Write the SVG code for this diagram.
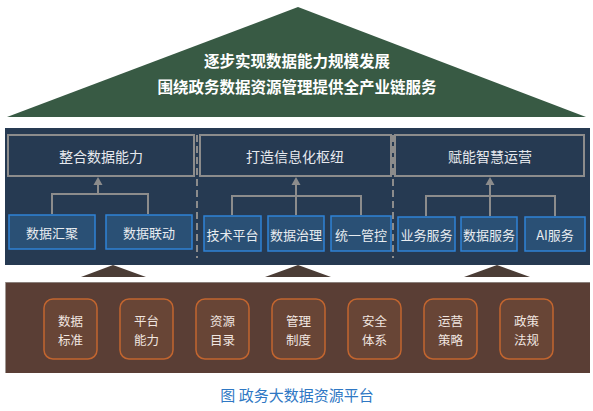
<svg xmlns="http://www.w3.org/2000/svg" width="593" height="411" viewBox="0 0 593 411">
<defs>
<style>
text{font-family:"Noto Sans CJK SC","Liberation Sans",sans-serif;text-anchor:middle;dominant-baseline:central}
.top{fill:#ffffff;font-size:15.5px;font-weight:bold}
.title{fill:#e6e9ee;font-size:14px}
.big{fill:none;stroke:#8c8c8c;stroke-width:2}
.sm{fill:#2a5075;stroke:#2f82d6;stroke-width:1.5}
.smt{fill:#e8ecf0;font-size:13px}
.base{fill:#684536;stroke:#c2652f;stroke-width:1.5}
.bt{fill:#f1e6e0;font-size:12.5px}
.con{fill:none;stroke:#8c8c8c;stroke-width:2}
.ah{fill:#8c8c8c}
.cap{fill:#2f78c4;font-size:15px}
</style>
</defs>
<rect width="593" height="411" fill="#ffffff"/>
<g id="roof">
<polygon points="298,7 7,117 586,117" fill="#385a44"/>
<text class="top" x="297" y="60">逐步实现数据能力规模发展</text>
<text class="top" x="297" y="86">围绕政务数据资源管理提供全产业链服务</text>
</g>
<g id="panel">
<rect x="5" y="128" width="585" height="137" fill="#263a52"/>
<line x1="197" y1="135" x2="197" y2="258" stroke="#8c8c8c" stroke-width="2" stroke-dasharray="7,4"/>
<line x1="393" y1="135" x2="393" y2="258" stroke="#8c8c8c" stroke-width="2" stroke-dasharray="7,4"/>
</g>
<g id="pillars">
<polygon points="113,265 81,277 146,277" fill="#4b3d36"/>
<polygon points="298,265 265,277 331,277" fill="#4b3d36"/>
<polygon points="497,265 464,277 530,277" fill="#4b3d36"/>
</g>
<g id="n-zhenghe"><rect class="big" x="8" y="135" width="186" height="41"/><text class="title" x="101" y="156">整合数据能力</text></g>
<g id="n-dazao"><rect class="big" x="200" y="135" width="191" height="41"/><text class="title" x="295" y="156">打造信息化枢纽</text></g>
<g id="n-funeng"><rect class="big" x="395" y="135" width="189" height="41"/><text class="title" x="490" y="156">赋能智慧运营</text></g>
<g id="n-huiju"><rect class="sm" x="9" y="215" width="86" height="34"/><text class="smt" x="52" y="232">数据汇聚</text></g>
<g id="n-liandong"><rect class="sm" x="106" y="215" width="86" height="34"/><text class="smt" x="149" y="232">数据联动</text></g>
<g id="n-jishu"><rect class="sm" x="204" y="216" width="57" height="35"/><text class="smt" x="232.5" y="234">技术平台</text></g>
<g id="n-zhili"><rect class="sm" x="268" y="216" width="56" height="35"/><text class="smt" x="296" y="234">数据治理</text></g>
<g id="n-guankong"><rect class="sm" x="331" y="216" width="60" height="35"/><text class="smt" x="361" y="234">统一管控</text></g>
<g id="n-yewu"><rect class="sm" x="398" y="217" width="57" height="34"/><text class="smt" x="426.5" y="234">业务服务</text></g>
<g id="n-shuju"><rect class="sm" x="461" y="217" width="56" height="34"/><text class="smt" x="489" y="234">数据服务</text></g>
<g id="n-ai"><rect class="sm" x="525" y="217" width="60" height="34"/><text class="smt" x="555" y="234">AI服务</text></g>
<g id="connectors">
<polyline class="con" points="52,214 52,194 148,194 148,214"/>
<line class="con" x1="98" y1="194" x2="98" y2="184"/>
<polygon class="ah" points="98,177 93.5,185 102.5,185"/>
<polyline class="con" points="232,215 232,196 361,196 361,215"/>
<line class="con" x1="296" y1="215" x2="296" y2="184"/>
<polygon class="ah" points="296,177 291.5,185 300.5,185"/>
<polyline class="con" points="426,216 426,196 555,196 555,216"/>
<line class="con" x1="490" y1="216" x2="490" y2="184"/>
<polygon class="ah" points="490,177 485.5,185 494.5,185"/>
</g>
<g id="foundation">
<rect x="5" y="282" width="585" height="91" fill="#5a3e35"/>
<line x1="5" y1="282.5" x2="590" y2="282.5" stroke="#8a7f7a" stroke-width="1"/>
<line x1="5.5" y1="282" x2="5.5" y2="373" stroke="#a09894" stroke-width="1"/>
</g>
<g id="b-biaozhun"><rect class="base" x="44" y="299" width="53" height="60" rx="9"/><text class="bt" x="70.5" y="320">数据</text><text class="bt" x="70.5" y="339">标准</text></g>
<g id="b-pingtai"><rect class="base" x="120" y="299" width="53" height="60" rx="9"/><text class="bt" x="146.5" y="320">平台</text><text class="bt" x="146.5" y="339">能力</text></g>
<g id="b-mulu"><rect class="base" x="196" y="299" width="53" height="60" rx="9"/><text class="bt" x="222.5" y="320">资源</text><text class="bt" x="222.5" y="339">目录</text></g>
<g id="b-zhidu"><rect class="base" x="272" y="299" width="53" height="60" rx="9"/><text class="bt" x="298.5" y="320">管理</text><text class="bt" x="298.5" y="339">制度</text></g>
<g id="b-anquan"><rect class="base" x="348" y="299" width="53" height="60" rx="9"/><text class="bt" x="374.5" y="320">安全</text><text class="bt" x="374.5" y="339">体系</text></g>
<g id="b-yunying"><rect class="base" x="424" y="299" width="53" height="60" rx="9"/><text class="bt" x="450.5" y="320">运营</text><text class="bt" x="450.5" y="339">策略</text></g>
<g id="b-zhengce"><rect class="base" x="500" y="299" width="53" height="60" rx="9"/><text class="bt" x="526.5" y="320">政策</text><text class="bt" x="526.5" y="339">法规</text></g>
<g id="caption"><text class="cap" x="297" y="394">图 政务大数据资源平台</text></g>
</svg>
